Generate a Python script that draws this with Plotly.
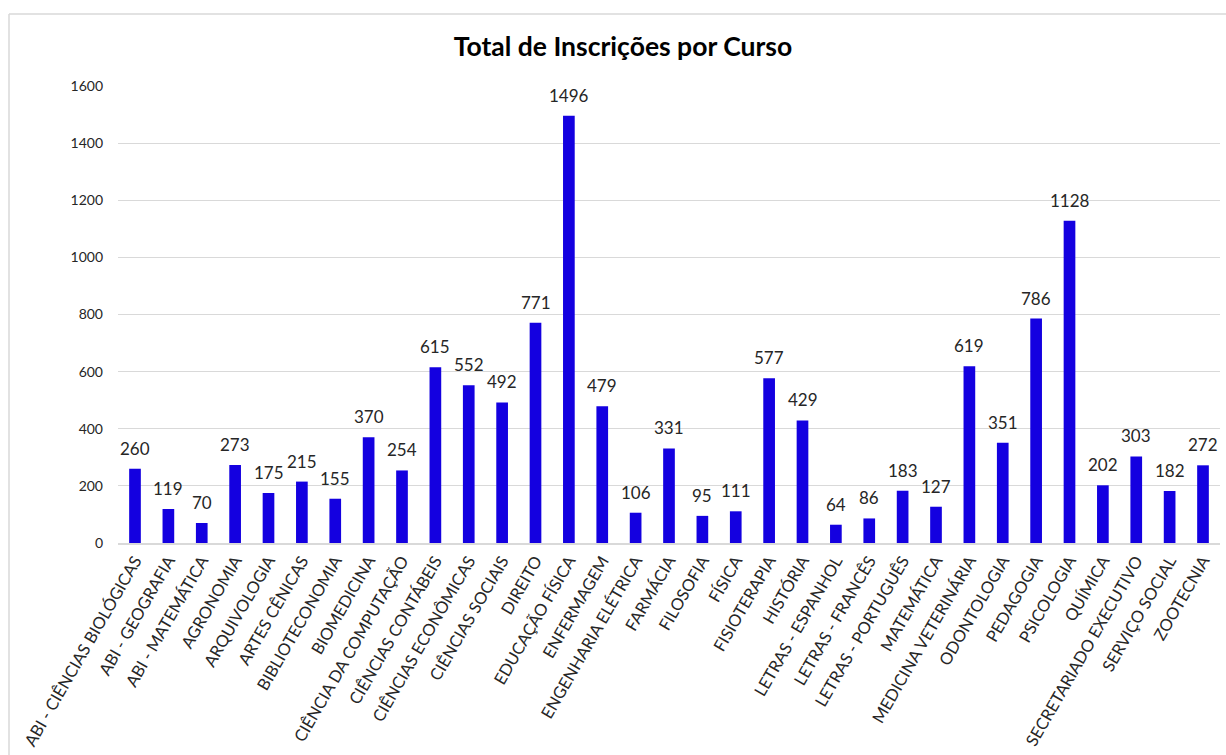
import plotly.graph_objects as go

cursos = [
    "ABI - CIÊNCIAS BIOLÓGICAS", "ABI - GEOGRAFIA", "ABI - MATEMÁTICA", "AGRONOMIA",
    "ARQUIVOLOGIA", "ARTES CÊNICAS", "BIBLIOTECONOMIA", "BIOMEDICINA",
    "CIÊNCIA DA COMPUTAÇÃO", "CIÊNCIAS CONTÁBEIS", "CIÊNCIAS ECONÔMICAS", "CIÊNCIAS SOCIAIS",
    "DIREITO", "EDUCAÇÃO FÍSICA", "ENFERMAGEM", "ENGENHARIA ELÉTRICA", "FARMÁCIA",
    "FILOSOFIA", "FÍSICA", "FISIOTERAPIA", "HISTÓRIA", "LETRAS - ESPANHOL",
    "LETRAS - FRANCÊS", "LETRAS - PORTUGUÊS", "MATEMÁTICA", "MEDICINA VETERINÁRIA",
    "ODONTOLOGIA", "PEDAGOGIA", "PSICOLOGIA", "QUÍMICA", "SECRETARIADO EXECUTIVO",
    "SERVIÇO SOCIAL", "ZOOTECNIA",
]
inscricoes = [260, 119, 70, 273, 175, 215, 155, 370, 254, 615, 552, 492, 771, 1496,
              479, 106, 331, 95, 111, 577, 429, 64, 86, 183, 127, 619, 351, 786, 1128,
              202, 303, 182, 272]
y_ticks = [0, 200, 400, 600, 800, 1000, 1200, 1400, 1600]

FONT = "Lato"
W, H = 1226, 755
L, R, T, B = 118, 6, 86, 212
pw, ph = W - L - R, H - T - B

fig = go.Figure(go.Bar(
    x=cursos, y=inscricoes,
    marker=dict(color="#1400E0", line=dict(width=0)),
    hoverinfo="x+y",
))

annotations = [
    dict(x=c, y=v, text=str(v), showarrow=False, yanchor="bottom", yshift=8,
         font=dict(family=FONT, size=17, color="#262626"))
    for c, v in zip(cursos, inscricoes)
]

shapes = [
    dict(type="line", xref="paper", yref="paper",
         x0=(9 - L) / pw, x1=(W - L) / pw, y0=1 + (T - 14) / ph, y1=1 + (T - 14) / ph,
         line=dict(color="#d9d9d9", width=1.5)),
    dict(type="line", xref="paper", yref="paper",
         x0=(9 - L) / pw, x1=(9 - L) / pw, y0=1 + (T - 14) / ph, y1=-(B) / ph,
         line=dict(color="#d9d9d9", width=1.5)),
]

fig.update_layout(
    width=W, height=H,
    margin=dict(l=L, r=R, t=T, b=B),
    paper_bgcolor="white", plot_bgcolor="white",
    bargap=0.65,
    showlegend=False,
    title=dict(text="<b>Total de Inscrições por Curso</b>", x=623 / W, xref="container",
               xanchor="center", y=1 - 47 / H, yref="container", yanchor="middle",
               font=dict(family=FONT, size=26.5, color="#000000")),
    xaxis=dict(tickangle=-60, tickfont=dict(family=FONT, size=16.5, color="#262626"),
               showgrid=False, showline=True, linecolor="#d9d9d9", linewidth=1.5,
               ticks="", automargin=False),
    yaxis=dict(range=[0, 1600], tickvals=y_ticks, showgrid=True, gridcolor="#d9d9d9",
               gridwidth=1.2, zeroline=False, showline=False, ticks="",
               tickfont=dict(family=FONT, size=14, color="#262626"),
               ticklabelstandoff=14, automargin=False),
    annotations=annotations,
    shapes=shapes,
    font=dict(family=FONT),
)

fig.write_html("out.html", config={"displayModeBar": False},
               post_script="document.body.style.margin='0';document.body.style.padding='0';")
